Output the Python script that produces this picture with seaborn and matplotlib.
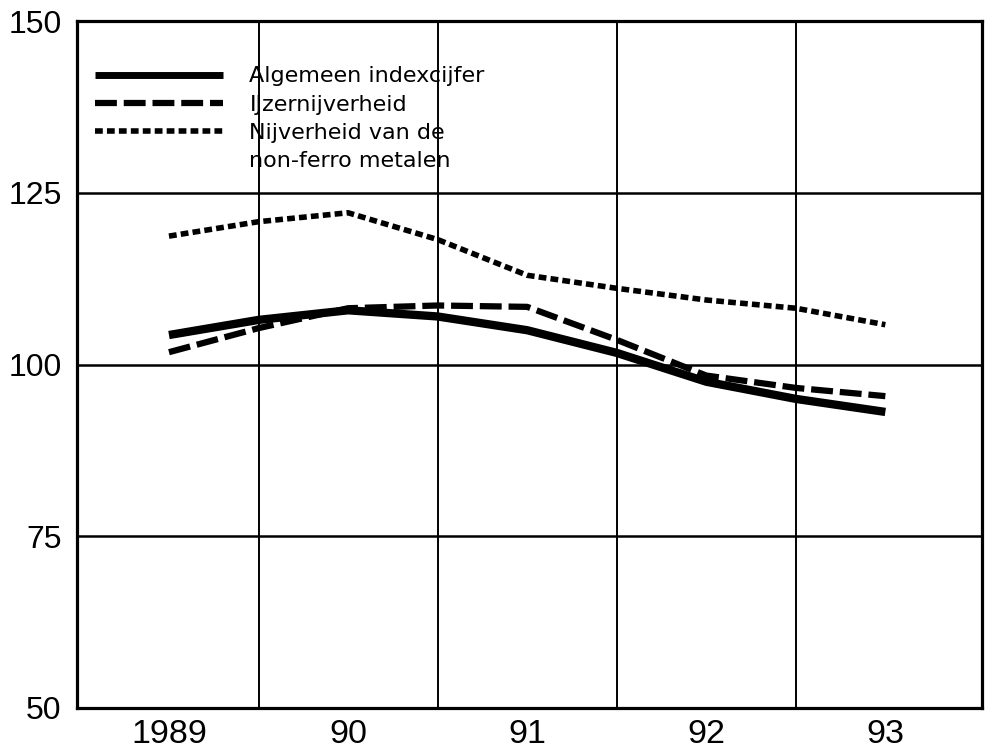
import matplotlib
matplotlib.use("Agg")
import matplotlib.pyplot as plt
import seaborn as sns
import pandas as pd
from matplotlib.lines import Line2D

# Data (half-year readings)
x_pos = [1989.0, 1989.5, 1990.0, 1990.5, 1991.0, 1991.5, 1992.0, 1992.5, 1993.0]
algemeen = [104.3, 106.5, 107.9, 107.0, 105.0, 101.7, 97.5, 95.0, 93.1]
ijzer = [101.8, 105.3, 108.2, 108.6, 108.4, 103.6, 98.4, 96.6, 95.4]
nonferro = [118.7, 120.8, 122.1, 118.2, 113.0, 111.1, 109.4, 108.2, 105.8]

year_ticks = [1989, 1990, 1991, 1992, 1993]
year_labels = ["1989", "90", "91", "92", "93"]
y_ticks = [50, 75, 100, 125, 150]
labels = ["Algemeen indexcijfer", "IJzernijverheid", "Nijverheid van de", "non-ferro metalen"]

sns.set_theme(style="white")
plt.rcParams["font.family"] = ["Liberation Sans", "DejaVu Sans"]
plt.rcParams["text.color"] = "black"
plt.rcParams["xtick.color"] = "black"
plt.rcParams["ytick.color"] = "black"
plt.rcParams["xtick.labelcolor"] = "black"
plt.rcParams["ytick.labelcolor"] = "black"

fig = plt.figure(figsize=(9.86, 7.55), dpi=100)
ax = fig.add_axes([0.078, 0.0623, 0.918, 0.9097])

SOLID_LW, DASH_LW, DOT_LW = 6.0, 4.5, 4.0
DASH_PAT, DOT_PAT = (3.5, 1.1), (1.4, 0.75)

df = pd.DataFrame({"x": x_pos, "a": algemeen, "b": ijzer, "c": nonferro})
sns.lineplot(data=df, x="x", y="a", ax=ax, color="black", lw=SOLID_LW,
             solid_capstyle="butt", zorder=5)
sns.lineplot(data=df, x="x", y="b", ax=ax, color="black", lw=DASH_LW, zorder=4)
ax.lines[-1].set_dashes(DASH_PAT)
ax.lines[-1].set_dash_capstyle("butt")
sns.lineplot(data=df, x="x", y="c", ax=ax, color="black", lw=DOT_LW, zorder=3)
ax.lines[-1].set_dashes(DOT_PAT)
ax.lines[-1].set_dash_capstyle("butt")

ax.set_xlim(1988.486, 1993.54)
ax.set_ylim(50, 150)
ax.set_yticks(y_ticks)
ax.set_yticklabels([str(v) for v in y_ticks])
ax.set_xticks(year_ticks)
ax.set_xticklabels(year_labels)
ax.set_xticks([t + 0.5 for t in year_ticks[:-1]], minor=True)
ax.set_xlabel("")
ax.set_ylabel("")

ax.grid(False)
ax.grid(True, which="major", axis="y", color="black", lw=1.8, zorder=1)
ax.grid(True, which="minor", axis="x", color="black", lw=1.4, zorder=1)
ax.tick_params(axis="both", which="both", length=0)
ax.tick_params(axis="y", pad=11, labelsize=23, labelcolor="black")
ax.tick_params(axis="x", pad=8, labelsize=24.5, labelcolor="black")

for s in ax.spines.values():
    s.set_visible(True)
    s.set_color("black")
    s.set_linewidth(2.3)

h1 = Line2D([], [], color="black", lw=SOLID_LW - 1, solid_capstyle="butt")
h2 = Line2D([], [], color="black", lw=DASH_LW, dashes=DASH_PAT, dash_capstyle="butt")
h3 = Line2D([], [], color="black", lw=DOT_LW, dashes=DOT_PAT, dash_capstyle="butt")
h4 = Line2D([], [], color="none", lw=0)
leg = ax.legend([h1, h2, h3, h4], labels, loc="upper left",
                bbox_to_anchor=(0.02, 0.934), frameon=False,
                prop={"family": "DejaVu Sans", "size": 16},
                handlelength=5.75, handletextpad=1.2,
                labelspacing=0.37, borderaxespad=0, borderpad=0,
                labelcolor="black")
leg.set_zorder(10)

fig.savefig("out.png", dpi=100, facecolor="white")
